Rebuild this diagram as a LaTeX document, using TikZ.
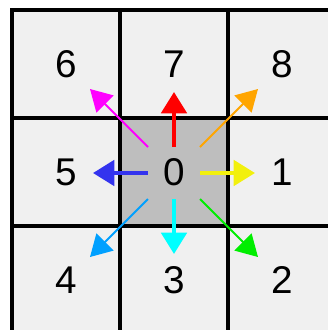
\documentclass[tikz,border=0pt]{standalone}
\usepackage{fontspec}
\setmainfont{Liberation Sans}
\usetikzlibrary{arrows.meta,calc}
\definecolor{Cell}{HTML}{F0F0F0}
\definecolor{Hub}{HTML}{BEBEBE}
\definecolor{Dir1}{HTML}{F2F00D}
\definecolor{Dir2}{HTML}{00EE00}
\definecolor{Dir3}{HTML}{00FFFF}
\definecolor{Dir4}{HTML}{00A0FF}
\definecolor{Dir5}{HTML}{3333EE}
\definecolor{Dir6}{HTML}{FF00FF}
\definecolor{Dir7}{HTML}{FF0000}
\definecolor{Dir8}{HTML}{FFA500}

\begin{document}
\begin{tikzpicture}[
  x=0.75pt, y=-0.75pt,
  digit/.style={font=\fontsize{29pt}{29pt}\selectfont, inner sep=0pt},
  gridline/.style={line width=3pt, draw=black, line cap=rect},
  ray/.style={line width=3pt, -{Triangle[length=16pt,width=19pt]}},
  diag/.style={line width=1.4pt, -{Triangle[length=16pt,width=18pt]}},
]
\clip (0,0) rectangle (328,330);
\fill[Cell] (12,10) rectangle (336,334);
\fill[Hub] (120,118) rectangle (228,226);
\foreach \x in {12,120,228}
  \draw[gridline] (\x,10) -- (\x,334);
\foreach \y in {10,118,226}
  \draw[gridline] (12,\y) -- (336,\y);
% cell numbers
\foreach \n/\x/\y in {6/66/64, 7/174/64, 8/282/64, 5/66/172, 0/174/172, 1/282/172, 4/66/280, 3/174/280, 2/282/280}
  \node[digit] (d\n) at (\x,\y) {\n};
% rays out of the centre cell
\coordinate (hub) at (174,173);
\foreach \n/\dx/\dy/\kind/\len in {1/1/0/ray/81, 2/1/1/diag/84, 3/0/1/ray/81, 4/-1/1/diag/84, 5/-1/0/ray/81, 6/-1/-1/diag/84, 7/0/-1/ray/81, 8/1/-1/diag/84} {
  \coordinate (s\n) at ($(hub)+(\dx*26,\dy*26)$);
  \coordinate (t\n) at ($(hub)+(\dx*\len,\dy*\len)$);
  \draw[\kind, draw=Dir\n] (s\n) -- (t\n);
}
\end{tikzpicture}
\end{document}
